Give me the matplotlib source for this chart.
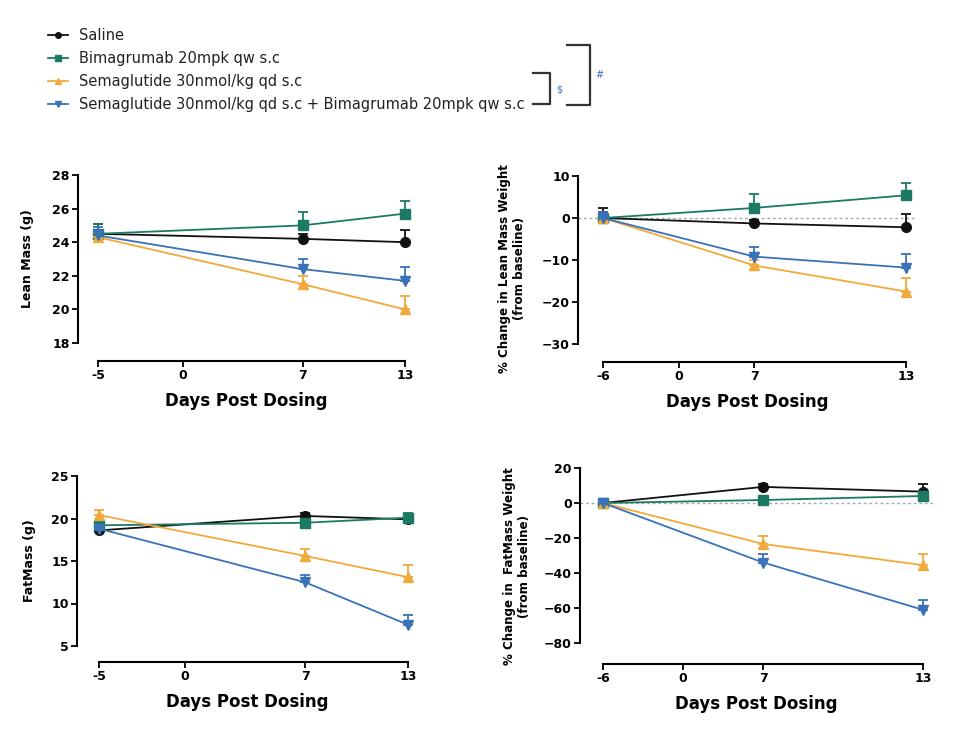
import matplotlib
matplotlib.use("Agg")
import matplotlib.pyplot as plt
from matplotlib.lines import Line2D
import numpy as np

plt.rcParams["font.family"] = "DejaVu Sans"

# ---- data ---------------------------------------------------------------
groups = ["Saline",
          "Bimagrumab 20mpk qw s.c",
          "Semaglutide 30nmol/kg qd s.c",
          "Semaglutide 30nmol/kg qd s.c + Bimagrumab 20mpk qw s.c"]
colors = ["#111111", "#1c7a64", "#f2a93b", "#3a72b8"]
markers = ["o", "s", "^", "v"]

days_abs = [-5, 7, 13]
days_pct = [-6, 7, 13]

lean_g = [[24.5, 24.2, 24.0], [24.5, 25.0, 25.7], [24.3, 21.5, 20.0], [24.4, 22.4, 21.7]]
lean_g_err = [[0.6, 0.3, 0.7], [0.6, 0.8, 0.75], [0.3, 0.5, 0.8], [0.5, 0.6, 0.85]]

lean_pct = [[0, -1.3, -2.2], [0, 2.4, 5.4], [0, -11.3, -17.5], [0, -9.2, -11.8]]
lean_pct_err = [[2.4, 0.8, 3.2], [1.5, 3.4, 3.0], [1.0, 1.3, 3.2], [1.5, 2.3, 3.2]]

fat_g = [[18.6, 20.3, 19.9], [19.2, 19.5, 20.1], [20.4, 15.6, 13.1], [18.8, 12.5, 7.5]]
fat_g_err = [[0.4, 0.4, 0.5], [0.5, 0.4, 0.5], [0.6, 0.8, 1.4], [0.3, 0.9, 1.1]]

fat_pct = [[0, 9.2, 6.5], [0, 1.7, 4.0], [0, -23.4, -35.5], [0, -34.0, -61.0]]
fat_pct_err = [[2.0, 1.5, 4.5], [1.5, 1.5, 2.0], [1.0, 4.4, 6.3], [1.0, 5.0, 5.5]]

# uneven day axis used in the percent panels
knot_days = [-100, -6, 0, 7, 13, 100]
knot_pos = [-94 * 0.25 / 6, 0, 0.25, 0.5, 1.0, 1.0 + 87 * 0.5 / 6]


def fwd(x):
    return np.interp(x, knot_days, knot_pos)


def inv(p):
    return np.interp(p, knot_pos, knot_days)


W, H = 960, 754
fig = plt.figure(figsize=(W / 100, H / 100), dpi=100)


def px_axes(left, top, right, bottom):
    return fig.add_axes([left / W, 1 - bottom / H, (right - left) / W, (bottom - top) / H])


def style(ax, xticks, xlabels, yticks, offset_px):
    for s in ["top", "right"]:
        ax.spines[s].set_visible(False)
    for s in ["left", "bottom"]:
        ax.spines[s].set_linewidth(1.5)
    ax.spines["bottom"].set_position(("outward", offset_px * 0.72))
    ax.spines["bottom"].set_bounds(xticks[0], xticks[-1])
    ax.set_xticks(xticks)
    ax.set_xticklabels(xlabels)
    ax.set_yticks(yticks)
    ax.tick_params(length=4, width=1.3, labelsize=9, pad=2)
    for t in ax.get_xticklabels() + ax.get_yticklabels():
        t.set_fontweight("bold")
    ax.set_xlabel("Days Post Dosing", fontsize=12, fontweight="bold", labelpad=7)


def draw(ax, x, vals, errs, zero_line=False):
    if zero_line:
        ax.axhline(0, color="#a8a8a8", lw=1, ls=(0, (2, 2)), zorder=1)
    for i in range(4):
        v = np.array(vals[i])
        e = np.array(errs[i])
        ax.errorbar(x, v, yerr=[np.zeros_like(e), e], color=colors[i], marker=markers[i],
                    ms=7, lw=1.3, elinewidth=1.3, capsize=3.5, capthick=1.3,
                    clip_on=False, zorder=3 + i)


# top-left: lean mass (g)
ax1 = px_axes(78, 175, 415, 343)
draw(ax1, days_abs, lean_g, lean_g_err)
ax1.set_xlim(-6.17, 13.59)
ax1.set_ylim(18, 28)
style(ax1, [-5, 0, 7, 13], ["-5", "0", "7", "13"], [18, 20, 22, 24, 26, 28], 18)
ax1.set_ylabel("Lean Mass (g)", fontsize=9, fontweight="bold")
ax1.yaxis.set_label_coords(-0.13, 0.5)

# top-right: % change lean mass
ax2 = px_axes(578, 176, 916, 344)
ax2.set_xscale("function", functions=(fwd, inv))
draw(ax2, days_pct, lean_pct, lean_pct_err, zero_line=True)
ax2.set_xlim(-7.98, 13.4)
ax2.set_ylim(-30, 10)
style(ax2, [-6, 0, 7, 13], ["-6", "0", "7", "13"], [-30, -20, -10, 0, 10], 18)
ax2.set_ylabel("% Change in Lean Mass Weight\n(from baseline)", fontsize=8.6, fontweight="bold")
ax2.yaxis.set_label_coords(-0.155, 0.45)

# bottom-left: fat mass (g)
ax3 = px_axes(77, 476, 418, 646)
draw(ax3, days_abs, fat_g, fat_g_err)
ax3.set_xlim(-6.28, 13.58)
ax3.set_ylim(5, 25)
style(ax3, [-5, 0, 7, 13], ["-5", "0", "7", "13"], [5, 10, 15, 20, 25], 16)
ax3.set_ylabel("FatMass (g)", fontsize=9, fontweight="bold")
ax3.yaxis.set_label_coords(-0.12, 0.5)

# bottom-right: % change fat mass
ax4 = px_axes(580, 468, 933, 643)
ax4.set_xscale("function", functions=(fwd, inv))
draw(ax4, days_pct, fat_pct, fat_pct_err, zero_line=True)
ax4.set_xlim(-7.73, 13.375)
ax4.set_ylim(-80, 20)
style(ax4, [-6, 0, 7, 13], ["-6", "0", "7", "13"], [-80, -60, -40, -20, 0, 20], 21)
ax4.set_ylabel("% Change in  FatMass Weight\n(from baseline)", fontsize=8.6, fontweight="bold")
ax4.yaxis.set_label_coords(-0.14, 0.44)

# legend
handles = [Line2D([], [], color=c, marker=m, ms=4, lw=1.3) for c, m in zip(colors, markers)]
leg = fig.legend(handles, groups, loc="upper left", bbox_to_anchor=(48 / W, 1 - 28 / H),
                 frameon=False, fontsize=10.5, handlelength=1.35, handletextpad=0.8,
                 labelspacing=0.55, borderpad=0, borderaxespad=0)
for t in leg.get_texts():
    t.set_color("#222222")


# significance brackets next to the legend
def fig_line(xs, ys):
    fig.add_artist(Line2D([x / W for x in xs], [1 - y / H for y in ys],
                          color="#333333", lw=1.6))


fig_line([533, 550, 550, 533], [73, 73, 104, 104])
fig_line([567, 590, 590, 567], [45, 45, 105, 105])
fig.text(559 / W, 1 - 90 / H, "$", color="#3a72b8", fontsize=7, ha="center", va="center")
fig.text(599 / W, 1 - 75 / H, "#", color="#3a72b8", fontsize=7, ha="center", va="center",
         style="italic")

fig.savefig("out.png", dpi=100)
